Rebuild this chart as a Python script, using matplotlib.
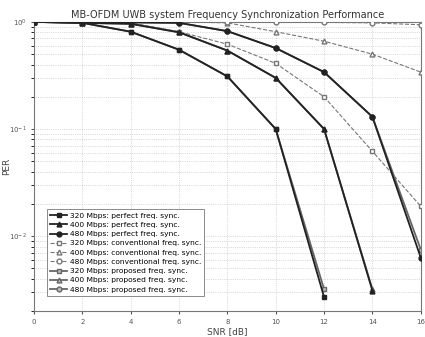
import numpy as np
import matplotlib
matplotlib.use("Agg")
import matplotlib.pyplot as plt

# SNR points [dB]
snr = [0, 2, 4, 6, 8, 10, 12, 14, 16]

# PER values (curves stop where they leave the plot)
perfect_320 = [1.0, 0.98, 0.81, 0.55, 0.31, 0.10, 0.0027]
perfect_400 = [1.0, 0.98, 0.96, 0.80, 0.54, 0.30, 0.10, 0.0031]
perfect_480 = [1.0, 1.0, 0.99, 0.98, 0.82, 0.57, 0.34, 0.13, 0.0063]
conv_320 = [1.0, 1.0, 0.98, 0.81, 0.62, 0.41, 0.20, 0.062, 0.019]
conv_400 = [1.0, 1.0, 1.0, 1.0, 0.98, 0.81, 0.66, 0.50, 0.34]
conv_480 = [1.0, 1.0, 1.0, 1.0, 1.0, 1.0, 0.99, 0.98, 0.94]
prop_320 = [1.0, 0.98, 0.81, 0.55, 0.31, 0.10, 0.0032]
prop_400 = [1.0, 0.98, 0.96, 0.80, 0.54, 0.30, 0.10, 0.0032]
prop_480 = [1.0, 1.0, 0.99, 0.98, 0.82, 0.57, 0.34, 0.13, 0.0075]

series = [
    ("320 Mbps: perfect freq. sync.", perfect_320, "-", "s", "#222222", "#222222", 4),
    ("400 Mbps: perfect freq. sync.", perfect_400, "-", "^", "#222222", "#222222", 4),
    ("480 Mbps: perfect freq. sync.", perfect_480, "-", "o", "#222222", "#222222", 4),
    ("320 Mbps: conventional freq. sync.", conv_320, "--", "s", "#777777", "white", 3),
    ("400 Mbps: conventional freq. sync.", conv_400, "--", "^", "#777777", "white", 3),
    ("480 Mbps: conventional freq. sync.", conv_480, "--", "o", "#777777", "white", 3),
    ("320 Mbps: proposed freq. sync.", prop_320, "-", "s", "#666666", "#bbbbbb", 2),
    ("400 Mbps: proposed freq. sync.", prop_400, "-", "^", "#666666", "#bbbbbb", 2),
    ("480 Mbps: proposed freq. sync.", prop_480, "-", "o", "#666666", "#bbbbbb", 2),
]

fig = plt.figure(figsize=(4.25, 3.37), dpi=100)
ax = fig.add_axes([0.08, 0.077, 0.91, 0.858])

for label, vals, ls, mk, col, fc, z in series:
    ax.plot(snr[:len(vals)], vals, linestyle=ls, marker=mk, color=col,
            markerfacecolor=fc, markeredgecolor=col, markersize=3.5,
            linewidth=1.3 if ls == "-" else 0.8, label=label, zorder=z)

ax.set_yscale("log")
ax.set_xlim(0, 16)
ax.set_ylim(2e-3, 1)
ax.set_xticks(snr)
ax.tick_params(labelsize=5, length=2, colors="#555555")
ax.grid(True, which="both", linestyle=":", color="#bbbbbb", linewidth=0.5)
for s in ax.spines.values():
    s.set_color("#777777")
ax.set_xlabel("SNR [dB]", fontsize=6.5, color="#444444", labelpad=2)
ax.set_ylabel("PER", fontsize=6.5, color="#444444")
ax.yaxis.set_label_coords(-0.058, 0.5)
ax.set_title("MB-OFDM UWB system Frequency Synchronization Performance",
             fontsize=7, color="#333333", pad=3)

leg = ax.legend(loc="lower left", bbox_to_anchor=(0.025, 0.04), fontsize=5.4,
                handlelength=2.2, handletextpad=0.4, labelspacing=0.4,
                borderpad=0.4, fancybox=False, framealpha=1)
leg.get_frame().set_edgecolor("#777777")
leg.get_frame().set_linewidth(0.6)

fig.savefig("out.png", dpi=100)
